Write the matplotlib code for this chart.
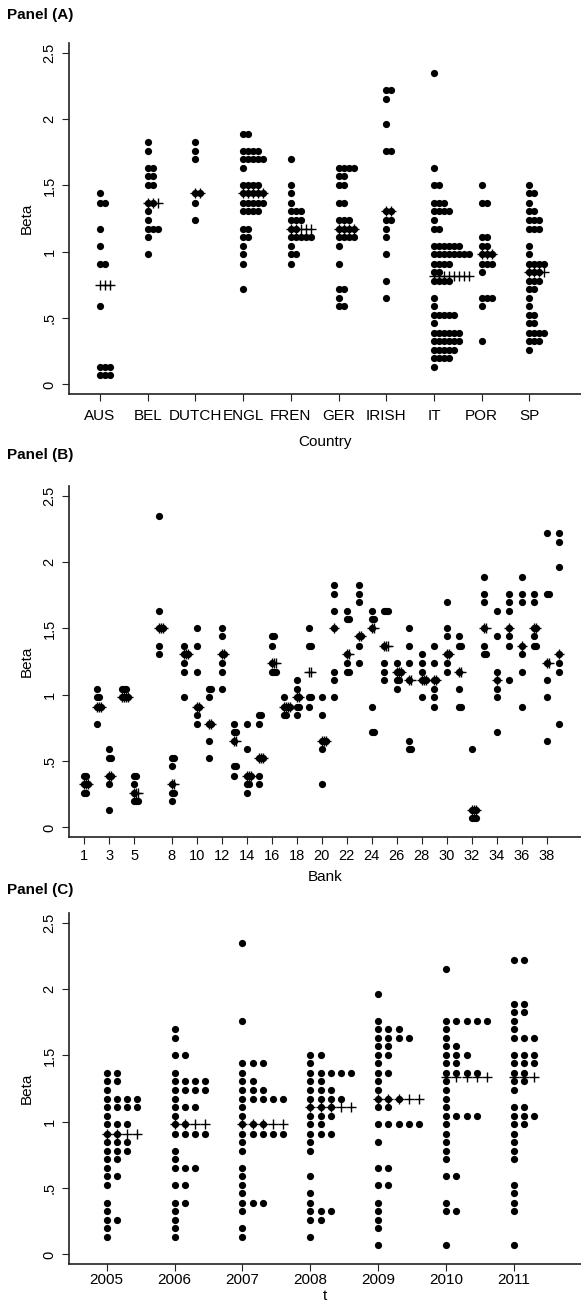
import numpy as np
import matplotlib
matplotlib.use("Agg")
import matplotlib.pyplot as plt

plt.rcParams["font.family"] = ["Liberation Sans", "DejaVu Sans"]

# each group: (beta, number of dots in that beta row)

# Panel A - by country
countries = ["AUS", "BEL", "DUTCH", "ENGL", "FREN", "GER", "IRISH", "IT", "POR", "SP"]
aus = [(1.44, 1), (1.37, 2), (1.17, 1), (1.04, 1), (0.91, 2), (0.59, 1), (0.13, 3), (0.07, 3)]
bel = [(1.83, 1), (1.76, 1), (1.63, 2), (1.57, 2), (1.50, 2), (1.37, 2), (1.31, 1), (1.24, 1),
       (1.17, 3), (1.11, 1), (0.98, 1)]
dutch = [(1.83, 1), (1.76, 1), (1.70, 1), (1.44, 2), (1.37, 1), (1.24, 1)]
engl = [(1.89, 2), (1.76, 4), (1.70, 5), (1.63, 1), (1.50, 4), (1.44, 5), (1.37, 5), (1.31, 4),
        (1.17, 2), (1.11, 2), (1.04, 1), (0.98, 1), (0.91, 1), (0.72, 1)]
fren = [(1.70, 1), (1.50, 1), (1.44, 1), (1.37, 1), (1.31, 3), (1.24, 3), (1.17, 2), (1.11, 5),
        (1.04, 1), (0.98, 2), (0.91, 1)]
ger = [(1.63, 4), (1.57, 2), (1.50, 2), (1.37, 2), (1.24, 3), (1.17, 4), (1.11, 4), (1.04, 1),
       (0.91, 1), (0.72, 2), (0.65, 1), (0.59, 2)]
irish = [(2.22, 2), (2.15, 1), (1.96, 1), (1.76, 2), (1.31, 2), (1.24, 2), (1.17, 1), (1.11, 1),
         (0.98, 1), (0.78, 1), (0.65, 1)]
it = [(2.35, 1), (1.63, 1), (1.50, 2), (1.37, 3), (1.31, 4), (1.24, 1), (1.17, 2), (1.04, 6),
      (0.98, 8), (0.91, 4), (0.85, 2), (0.78, 4), (0.65, 1), (0.59, 1), (0.52, 5), (0.46, 1),
      (0.39, 6), (0.33, 6), (0.26, 5), (0.20, 4), (0.13, 1)]
por = [(1.50, 1), (1.37, 2), (1.11, 2), (1.04, 2), (0.98, 3), (0.91, 3), (0.85, 1), (0.65, 3),
       (0.59, 1), (0.33, 1)]
sp = [(1.50, 1), (1.44, 2), (1.37, 1), (1.31, 2), (1.24, 3), (1.17, 3), (1.04, 1), (0.98, 1),
      (0.91, 4), (0.85, 3), (0.78, 3), (0.72, 2), (0.65, 1), (0.59, 1), (0.52, 2), (0.46, 2),
      (0.39, 4), (0.33, 3), (0.26, 1)]
country_groups = [aus, bel, dutch, engl, fren, ger, irish, it, por, sp]

# Panel B - by bank (bank 6 has no data)
bank_ids = list(range(1, 6)) + list(range(7, 40))
bank_groups = [
    [(0.39, 2), (0.33, 3), (0.26, 2)],
    [(1.04, 1), (0.98, 2), (0.91, 3), (0.78, 1)],
    [(0.59, 1), (0.52, 2), (0.39, 2), (0.33, 1), (0.13, 1)],
    [(1.04, 3), (0.98, 4)],
    [(0.39, 2), (0.33, 1), (0.26, 1), (0.20, 3)],
    [(2.35, 1), (1.63, 1), (1.50, 3), (1.37, 1), (1.31, 1)],
    [(0.52, 2), (0.46, 1), (0.33, 1), (0.26, 2), (0.20, 1)],
    [(1.37, 1), (1.31, 3), (1.24, 1), (1.17, 1), (0.98, 1)],
    [(1.50, 1), (1.37, 1), (1.17, 1), (0.91, 2), (0.85, 1), (0.78, 1)],
    [(1.04, 2), (0.98, 1), (0.78, 2), (0.65, 1), (0.52, 1)],
    [(1.50, 1), (1.44, 1), (1.31, 2), (1.24, 1), (1.17, 1), (1.04, 1)],
    [(0.78, 1), (0.72, 2), (0.65, 1), (0.46, 2), (0.39, 1)],
    [(0.78, 1), (0.59, 1), (0.39, 3), (0.33, 2), (0.26, 1)],
    [(0.85, 2), (0.78, 1), (0.52, 3), (0.39, 1), (0.33, 1)],
    [(1.44, 2), (1.37, 1), (1.24, 1), (1.17, 3)],
    [(0.98, 1), (0.91, 4), (0.85, 2)],
    [(1.11, 1), (1.04, 1), (0.98, 2), (0.91, 2), (0.85, 1)],
    [(1.50, 1), (1.37, 2), (0.98, 2), (0.91, 1)],
    [(0.98, 1), (0.85, 1), (0.65, 3), (0.59, 1), (0.33, 1)],
    [(1.83, 1), (1.76, 1), (1.63, 1), (1.50, 1), (1.17, 1), (1.11, 1), (0.98, 1)],
    [(1.63, 1), (1.57, 2), (1.31, 1), (1.24, 1), (1.17, 2)],
    [(1.83, 1), (1.76, 1), (1.70, 1), (1.44, 2), (1.37, 1), (1.24, 1)],
    [(1.63, 1), (1.57, 2), (1.50, 1), (0.91, 1), (0.72, 2)],
    [(1.63, 3), (1.37, 1), (1.24, 1), (1.17, 1), (1.11, 1)],
    [(1.24, 1), (1.17, 3), (1.11, 2), (1.04, 1)],
    [(1.50, 1), (1.37, 1), (1.24, 1), (1.11, 1), (0.65, 1), (0.59, 2)],
    [(1.31, 1), (1.24, 1), (1.17, 1), (1.11, 3), (0.98, 1)],
    [(1.37, 1), (1.24, 1), (1.11, 2), (1.04, 1), (0.98, 1), (0.91, 1)],
    [(1.70, 1), (1.50, 1), (1.44, 1), (1.31, 2), (1.24, 1), (1.17, 1)],
    [(1.44, 1), (1.37, 2), (1.17, 1), (1.04, 1), (0.91, 2)],
    [(0.59, 1), (0.13, 3), (0.07, 3)],
    [(1.89, 1), (1.76, 1), (1.70, 1), (1.50, 1), (1.37, 1), (1.31, 2)],
    [(1.63, 1), (1.44, 1), (1.17, 1), (1.11, 1), (1.04, 1), (0.98, 1), (0.72, 1)],
    [(1.76, 1), (1.70, 1), (1.63, 1), (1.50, 1), (1.44, 1), (1.37, 1), (1.11, 1)],
    [(1.89, 1), (1.76, 1), (1.70, 1), (1.37, 1), (1.31, 1), (1.17, 1), (0.91, 1)],
    [(1.76, 1), (1.70, 1), (1.50, 2), (1.44, 1), (1.37, 2)],
    [(2.22, 1), (1.76, 2), (1.24, 1), (1.11, 1), (0.98, 1), (0.65, 1)],
    [(2.22, 1), (2.15, 1), (1.96, 1), (1.31, 1), (1.24, 1), (1.17, 1), (0.78, 1)],
]
bank_ticks = [1, 3, 5, 8, 10, 12, 14, 16, 18, 20, 22, 24, 26, 28, 30, 32, 34, 36, 38]

# Panel C - by year
years = [2005, 2006, 2007, 2008, 2009, 2010, 2011]
y2005 = [(1.37, 2), (1.31, 2), (1.24, 1), (1.17, 4), (1.11, 4), (1.04, 1), (0.98, 3), (0.91, 2),
         (0.85, 3), (0.78, 3), (0.72, 2), (0.65, 1), (0.59, 2), (0.52, 1), (0.39, 1), (0.33, 1),
         (0.26, 2), (0.20, 1), (0.13, 1)]
y2006 = [(1.70, 1), (1.63, 1), (1.50, 2), (1.37, 1), (1.31, 4), (1.24, 4), (1.17, 1), (1.11, 3),
         (1.04, 1), (0.98, 2), (0.91, 4), (0.78, 1), (0.72, 1), (0.65, 3), (0.52, 2), (0.39, 2),
         (0.33, 1), (0.26, 1), (0.20, 1), (0.13, 1)]
y2007 = [(2.35, 1), (1.76, 1), (1.44, 3), (1.37, 1), (1.31, 2), (1.24, 3), (1.17, 5), (1.11, 1),
         (1.04, 1), (0.98, 3), (0.91, 5), (0.85, 1), (0.78, 1), (0.65, 1), (0.59, 1), (0.52, 1),
         (0.46, 1), (0.39, 3), (0.33, 1), (0.20, 1), (0.13, 1)]
y2008 = [(1.50, 2), (1.44, 1), (1.37, 5), (1.31, 2), (1.24, 3), (1.17, 4), (1.11, 3), (1.04, 3),
         (0.98, 2), (0.91, 3), (0.85, 1), (0.78, 1), (0.59, 1), (0.46, 1), (0.39, 1), (0.33, 3),
         (0.26, 2), (0.13, 1)]
y2009 = [(1.96, 1), (1.76, 1), (1.70, 3), (1.63, 4), (1.57, 2), (1.50, 2), (1.44, 1), (1.37, 2),
         (1.31, 1), (1.24, 1), (1.17, 3), (1.11, 2), (0.98, 5), (0.85, 1), (0.65, 2), (0.52, 2),
         (0.39, 1), (0.33, 1), (0.26, 1), (0.20, 1), (0.07, 1)]
y2010 = [(2.15, 1), (1.76, 5), (1.70, 1), (1.63, 1), (1.57, 2), (1.50, 3), (1.44, 2), (1.37, 4),
         (1.31, 1), (1.24, 1), (1.17, 1), (1.11, 1), (1.04, 4), (0.98, 1), (0.91, 1), (0.85, 1),
         (0.78, 1), (0.72, 1), (0.59, 2), (0.39, 1), (0.33, 2), (0.07, 1)]
y2011 = [(2.22, 2), (1.89, 2), (1.83, 2), (1.76, 1), (1.70, 1), (1.63, 3), (1.50, 3), (1.44, 3),
         (1.37, 2), (1.31, 2), (1.24, 1), (1.11, 2), (1.04, 3), (0.98, 2), (0.91, 1), (0.85, 1),
         (0.78, 1), (0.72, 1), (0.52, 1), (0.46, 1), (0.39, 1), (0.33, 1), (0.07, 1)]
year_groups = [y2005, y2006, y2007, y2008, y2009, y2010, y2011]


def dotplot(ax, positions, groups, dx):
    for g, dots in zip(positions, groups):
        xs, ys, vals = [], [], []
        for beta, n in dots:
            for j in range(n):
                xs.append(g + j * dx)
                ys.append(beta)
            vals += [beta] * n
        ax.scatter(xs, ys, s=27, c="black", linewidths=0, zorder=3)
        w = max(n for _, n in dots)
        med = np.median(vals)
        ax.scatter([g + j * dx for j in range(w)], [med] * w, marker="+", s=42,
                   c="black", linewidths=1.0, zorder=4)


def style(ax, xlim, xlabel, label_y, xpad):
    ax.set_xlim(*xlim)
    ax.set_ylim(-0.07, 2.571)
    for s in ["top", "right"]:
        ax.spines[s].set_visible(False)
    for s in ["left", "bottom"]:
        ax.spines[s].set_linewidth(1.2)
        ax.spines[s].set_color("#222222")
    ax.set_yticks([0, 0.5, 1, 1.5, 2, 2.5])
    ax.set_yticklabels(["0", ".5", "1", "1.5", "2", "2.5"], rotation=90, va="center")
    ax.tick_params(direction="out", length=5, width=0.8, color="#222222", labelsize=10.5)
    ax.tick_params(axis="y", pad=4)
    ax.tick_params(axis="x", pad=xpad)
    ax.set_ylabel("Beta", fontsize=11, va="center")
    ax.yaxis.set_label_coords(-0.083, 0.5)
    ax.set_xlabel(xlabel, fontsize=11, va="center")
    ax.xaxis.set_label_coords(0.5, label_y)


fig = plt.figure(figsize=(5.81, 13.04), dpi=100)
L, W, H = 69 / 581, 512 / 581, 350.4 / 1304

axA = fig.add_axes([L, 1 - 393.7 / 1304, W, H])
dotplot(axA, range(1, 11), country_groups, 0.105)
style(axA, (0.35, 11.08), "Country", -0.138, 6)
axA.set_xticks(range(1, 11))
axA.set_xticklabels(countries, fontsize=11)

axB = fig.add_axes([L, 1 - 836.7 / 1304, W, H])
dotplot(axB, bank_ids, bank_groups, 0.16)
style(axB, (-0.224, 40.74), "Bank", -0.115, 4)
axB.set_xticks(bank_ticks)
axB.set_xticklabels([str(b) for b in bank_ticks], fontsize=10.5)

axC = fig.add_axes([L, 1 - 1263.7 / 1304, W, H])
dotplot(axC, years, year_groups, 0.15)
style(axC, (2004.445, 2011.985), "t", -0.092, 2)
axC.set_xticks(years)
axC.set_xticklabels([str(y) for y in years], fontsize=11)

for ypx, t in [(15, "Panel (A)"), (455, "Panel (B)"), (890, "Panel (C)")]:
    fig.text(7 / 581, 1 - ypx / 1304, t, fontsize=11, fontweight="bold", va="center", ha="left")

fig.savefig("out.png", dpi=100)
